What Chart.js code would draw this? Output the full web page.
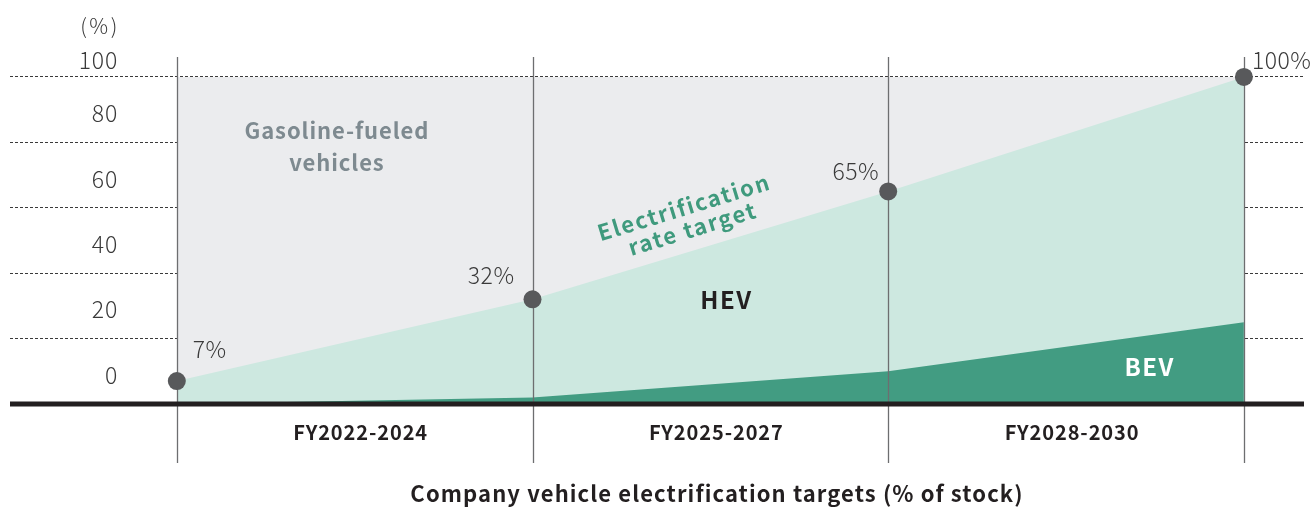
<!DOCTYPE html>
<html>
<head>
<meta charset="utf-8">
<script src="https://cdn.jsdelivr.net/npm/chart.js@4.4.1/dist/chart.umd.min.js"></script>
<style>
  html, body { margin: 0; padding: 0; background: #fff; }
  #wrap { width: 1313px; height: 507px; }
</style>
</head>
<body>
<div id="wrap"><canvas id="myChart"></canvas></div>
<script>
// datos
const periodLabels = ["FY2022-2024", "FY2025-2027", "FY2028-2030"];
const milestones = [0, 1, 2, 3];
const targetRate = [7, 32, 65, 100]; // HEV + BEV
const bevShare = [0, 2, 10, 25];
const gasolineTop = [100, 100, 100, 100];
const yTicks = [0, 20, 40, 60, 80, 100];
const chartTitle = "Company vehicle electrification targets (% of stock)";

const FONT = "'Noto Sans CJK JP', 'Noto Sans', sans-serif";
Chart.defaults.font.family = FONT;

const toPoints = (values) => milestones.map((x, i) => ({ x, y: values[i] }));

const text = (ctx, str, x, y, font, color, align, spacing) => {
  ctx.font = font;
  ctx.fillStyle = color;
  ctx.textAlign = align || "center";
  ctx.textBaseline = "middle";
  ctx.letterSpacing = (spacing || 0) + "px";
  ctx.fillText(str, x, y);
};

const decorations = {
  id: "decorations",
  // corre despues del filler: lineas sobre las areas pero bajo los puntos
  beforeDatasetsDraw(chart) {
    const { ctx, chartArea, scales } = chart;
    ctx.save();
    ctx.strokeStyle = "#6d6e70";
    ctx.lineWidth = 1.3;
    milestones.forEach((m) => {
      const x = Math.round(scales.x.getPixelForValue(m)) + 0.5;
      ctx.beginPath();
      ctx.moveTo(x, chartArea.top);
      ctx.lineTo(x, chartArea.bottom);
      ctx.stroke();
    });
    ctx.restore();
  },
  afterDatasetsDraw(chart) {
    const { ctx, chartArea, scales } = chart;
    const xs = scales.x;
    const ys = scales.y;
    ctx.save();

    // linea base
    const y0 = ys.getPixelForValue(0);
    ctx.fillStyle = "#231f20";
    ctx.fillRect(chartArea.left, y0 - 2.5, chartArea.right - chartArea.left, 5);

    // etiquetas eje y
    yTicks.forEach((v) => {
      const off = v === 100 ? -17 : -29;
      text(ctx, String(v), 118, ys.getPixelForValue(v) + off, "300 23px " + FONT, "#3a3a3a", "right", 0.8);
    });
    text(ctx, "(%)", 100, 26, "300 21px " + FONT, "#3a3a3a", "center", 2.5);

    // periodos
    periodLabels.forEach((lbl, i) => {
      text(ctx, lbl, xs.getPixelForValue(i + 0.5) + 6, 432, "bold 20px " + FONT, "#231f20", "center", 0.9);
    });

    // porcentajes en los puntos
    const pctPos = [[16, -32, "left"], [-18, -24, "right"], [-9, -20, "right"], [8, -17, "left"]];
    targetRate.forEach((v, i) => {
      const [dx, dy, al] = pctPos[i];
      text(ctx, v + "%", xs.getPixelForValue(milestones[i]) + dx, ys.getPixelForValue(v) + dy,
        "300 23px " + FONT, "#3a3a3a", al, 0.5);
    });

    // textos de las areas
    text(ctx, "Gasoline-fueled", xs.getPixelForValue(0.45), ys.getPixelForValue(83.5), "bold 22px " + FONT, "#7e8a90", "center", 0.9);
    text(ctx, "vehicles", xs.getPixelForValue(0.45), ys.getPixelForValue(73.7), "bold 22px " + FONT, "#7e8a90", "center", 0.9);
    text(ctx, "HEV", xs.getPixelForValue(1.545), ys.getPixelForValue(31.8), "bold 24px " + FONT, "#231f20", "center", 1.5);
    text(ctx, "BEV", xs.getPixelForValue(2.735), ys.getPixelForValue(11.5), "bold 24px " + FONT, "#ffffff", "center", 1.5);

    ctx.save();
    ctx.translate(xs.getPixelForValue(1.435), ys.getPixelForValue(57));
    ctx.rotate(-17 * Math.PI / 180);
    text(ctx, "Electrification", 0, -11, "bold 22px " + FONT, "#3f9a7d", "center", 1.8);
    text(ctx, "rate target", 2, 12, "bold 22px " + FONT, "#3f9a7d", "center", 1.8);
    ctx.restore();

    // titulo
    text(ctx, chartTitle, 717, 494, "bold 22px " + FONT, "#231f20", "center", 1.1);
    ctx.restore();
  },
};

const data = {
  datasets: [
    {
      label: "BEV",
      data: toPoints(bevShare),
      backgroundColor: "#429c82",
      borderWidth: 0,
      pointRadius: 0,
      fill: "origin",
    },
    {
      label: "HEV",
      data: toPoints(targetRate),
      backgroundColor: "#cde8e0",
      borderWidth: 0,
      pointRadius: 9,
      pointBackgroundColor: "#58595b",
      pointBorderWidth: 0,
      fill: "origin",
    },
    {
      label: "Gasoline-fueled vehicles",
      data: toPoints(gasolineTop),
      backgroundColor: "#ebecee",
      borderWidth: 0,
      pointRadius: 0,
      fill: "origin",
    },
  ],
};

const config = {
  type: "line",
  data: data,
  options: {
    responsive: true,
    maintainAspectRatio: false,
    animation: false,
    layout: { padding: { left: 10, right: 8, top: 57, bottom: 44 } },
    scales: {
      x: {
        type: "linear",
        min: -0.469,
        max: 3.169,
        grid: { display: false, drawTicks: false },
        border: { display: false },
        ticks: { display: false },
      },
      y: {
        min: -18.04,
        max: 106.1,
        afterBuildTicks: (axis) => {
          axis.ticks = yTicks.map((v) => ({ value: v }));
        },
        grid: {
          drawTicks: false,
          lineWidth: 1,
          color: (c) => (c.tick && c.tick.value === 0 ? "rgba(0,0,0,0)" : "#3a3a3a"),
        },
        border: { display: false, dash: [3, 2] },
        ticks: { display: false },
      },
    },
    plugins: {
      legend: { display: false },
      tooltip: { enabled: false },
      filler: { drawTime: "beforeDatasetsDraw" },
    },
  },
  plugins: [decorations],
};

new Chart(document.getElementById("myChart"), config);
</script>
</body>
</html>
